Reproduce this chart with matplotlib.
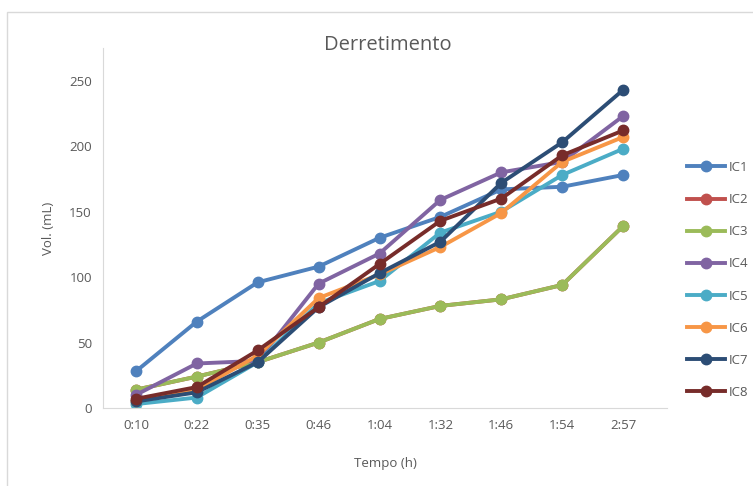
import matplotlib.pyplot as plt
from matplotlib.patches import Rectangle
from matplotlib.lines import Line2D

plt.rcParams['font.family'] = ['Open Sans', 'DejaVu Sans']

# data
tempos = ["0:10", "0:22", "0:35", "0:46", "1:04", "1:32", "1:46", "1:54", "2:57"]
ic1 = [28, 66, 96, 108, 130, 146, 167, 169, 178]
ic3 = [14, 24, 35, 50, 68, 78, 83, 94, 139]
ic2 = list(ic3)  # hidden under IC3 in the reference
ic4 = [10, 34, 36, 95, 118, 159, 180, 188, 223]
ic5 = [3, 8, 35, 80, 97, 134, 150, 178, 198]
ic6 = [5, 14, 40, 84, 102, 123, 149, 188, 207]
ic7 = [5, 12, 35, 77, 103, 127, 172, 203, 243]
ic8 = [7, 16, 44, 77, 110, 143, 160, 193, 212]

nomes = ["IC1", "IC2", "IC3", "IC4", "IC5", "IC6", "IC7", "IC8"]
series = [ic1, ic2, ic3, ic4, ic5, ic6, ic7, ic8]
cores = ["#4F81BD", "#C0504D", "#9BBB59", "#8064A2",
         "#4BACC6", "#F79646", "#2C4D75", "#772C2A"]
cinza = "#595959"

W, H = 753, 486
fig = plt.figure(figsize=(W / 100, H / 100), dpi=100)

# chart border (only top and left visible in the crop)
fig.patches.append(Rectangle((7 / W, -0.1), 1.2, (H - 12) / H + 0.1,
                             transform=fig.transFigure, fill=False,
                             edgecolor="#D9D9D9", linewidth=1))

ax = fig.add_axes([103 / W, (H - 408) / H, (667 - 103) / W, (408 - 48) / H])
x = list(range(len(tempos)))
for nome, ys, c in zip(nomes, series, cores):
    ax.plot(x, ys, color=c, linewidth=2.8, marker="o", markersize=7.5,
            label=nome, solid_capstyle="round")

ax.set_xlim(-0.54, 8.72)
ax.set_ylim(0, 275)
ax.set_yticks([0, 50, 100, 150, 200, 250])
ax.set_xticks(x)
ax.set_xticklabels(tempos)
ax.tick_params(length=0, colors=cinza, labelsize=9.5, pad=8)
for s in ["top", "right"]:
    ax.spines[s].set_visible(False)
for s in ["left", "bottom"]:
    ax.spines[s].set_color("#D9D9D9")
ax.set_ylabel("Vol. (mL)", color=cinza, fontsize=9.5, labelpad=10)
ax.set_xlabel("Tempo (h)", color=cinza, fontsize=9.5, labelpad=18)

fig.text(388 / W, 1 - 45 / H, "Derretimento", ha="center", va="center",
         color=cinza, fontsize=14.5)

handles = [Line2D([], [], color=c, linewidth=2.8, marker="o", markersize=7.5)
           for c in cores]
fig.legend(handles, nomes, loc="center left",
           bbox_to_anchor=(680 / W, 1 - 280 / H), frameon=False,
           fontsize=9.5, labelcolor=cinza, handlelength=2.9,
           handletextpad=0.3, labelspacing=1.45, borderpad=0)

fig.savefig("out.png", dpi=100)
